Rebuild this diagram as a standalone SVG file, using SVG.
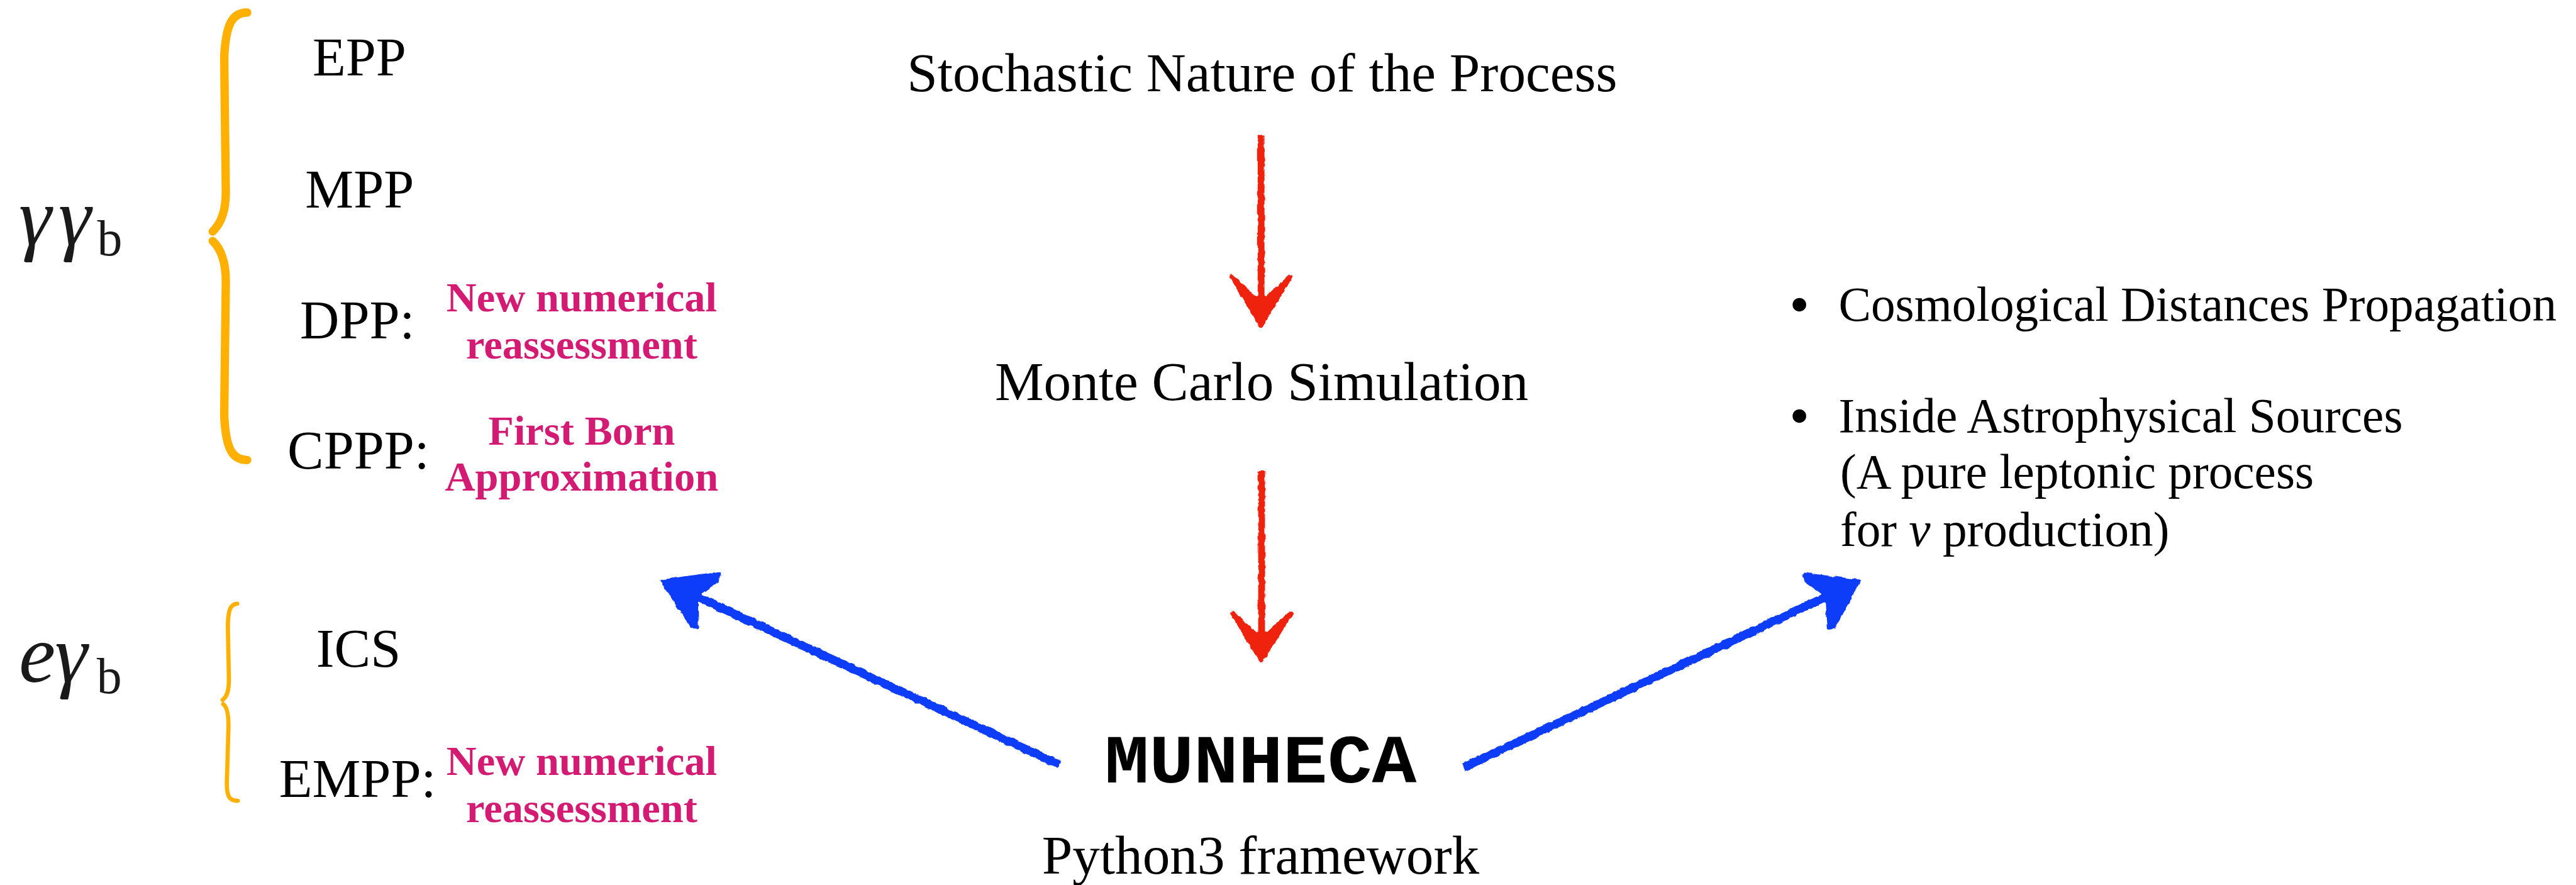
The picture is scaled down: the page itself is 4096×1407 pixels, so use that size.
<svg xmlns="http://www.w3.org/2000/svg" width="4096" height="1407" viewBox="0 0 4096 1407">
<style>
.t{font-family:"Liberation Serif","Times New Roman",serif;fill:#000}
.main{font-size:105px;text-anchor:middle}
.lbl{font-size:104px}
.note{font-family:"Liberation Serif","Times New Roman",serif;font-weight:bold;font-size:80px;fill:#D31B73;text-anchor:middle}
.rt{font-size:93px}
.math{font-family:"Liberation Serif","Times New Roman",serif;font-style:italic;font-size:158px;fill:#1a1a1a}
.sub{font-family:"Liberation Serif","Times New Roman",serif;font-size:96px;fill:#1a1a1a}
.brace{fill:none;stroke:#FFB000;stroke-linecap:round;stroke-linejoin:round}
.red{stroke:#EE2211;fill:#EE2211}
.blue{stroke:#0F3CF8;fill:#0F3CF8}
</style>
<defs>
<filter id="sketch" filterUnits="userSpaceOnUse" x="0" y="0" width="5000" height="1800">
<feTurbulence type="fractalNoise" baseFrequency="0.09" numOctaves="2" seed="3" result="n"/>
<feDisplacementMap in="SourceGraphic" in2="n" scale="6" xChannelSelector="R" yChannelSelector="G"/>
</filter>
</defs>
<rect width="4096" height="1407" fill="#fff"/>
<g transform="scale(0.831)">
<g id="connectors" filter="url(#sketch)">
<g id="arrow-stochastic-montecarlo" class="red">
<line x1="2413" y1="258" x2="2413" y2="580" stroke-width="13"/>
<polygon points="2413,623 2357,529 2402,572 2413,566 2424,572 2469,529" stroke-width="8" stroke-linejoin="round"/>
</g>
<g id="arrow-montecarlo-munheca" class="red">
<line x1="2414" y1="901" x2="2414" y2="1220" stroke-width="13"/>
<polygon points="2414,1264 2358,1173 2403,1214 2414,1208 2425,1214 2470,1173" stroke-width="8" stroke-linejoin="round"/>
</g>
<g id="arrow-munheca-left" class="blue">
<line x1="2027" y1="1463" x2="1318" y2="1134" stroke-width="16"/>
<polygon points="1268,1112 1376,1097 1372,1110 1332,1139 1333,1199 1324,1199" stroke-width="7" stroke-linejoin="round"/>
</g>
<g id="arrow-munheca-right" class="blue">
<line x1="2801" y1="1468" x2="3506" y2="1136" stroke-width="16"/>
<polygon points="3556,1112 3452,1099 3456,1111 3495,1139 3499,1201 3508,1200" stroke-width="7" stroke-linejoin="round"/>
</g>
</g>
<g id="node-stochastic"><text class="t main" x="2415" y="175">Stochastic Nature of the Process</text></g>
<g id="node-montecarlo"><text class="t main" x="2414" y="765">Monte Carlo Simulation</text></g>
<g id="node-munheca"><text x="2412" y="1497" font-family="'Liberation Mono','Courier New',monospace" font-weight="bold" font-size="132" text-anchor="middle" textLength="597" lengthAdjust="spacingAndGlyphs">MUNHECA</text></g>
<g id="node-python"><text class="t main" x="2412" y="1672">Python3 framework</text></g>
<g id="group-gg">
<text class="math" x="36" y="468">γ</text>
<text class="math" x="112" y="468">γ</text>
<text class="sub" x="186" y="489">b</text>
<path class="brace" stroke-width="16" d="M473 24 C445 24 432 45 429 110 L432 360 C433 400 425 425 407 443"/>
<path class="brace" stroke-width="16" d="M407 461 C425 478 433 505 432 545 L429 795 C432 860 445 880 473 880"/>
</g>
<g id="node-epp"><text class="t lbl" x="598" y="145">EPP</text></g>
<g id="node-mpp"><text class="t lbl" x="584" y="397">MPP</text></g>
<g id="node-dpp"><text class="t lbl" x="574" y="647">DPP:</text>
<text class="note" x="1113" y="596">New numerical</text>
<text class="note" x="1113" y="686">reassessment</text></g>
<g id="node-cppp"><text class="t lbl" x="550" y="897">CPPP:</text>
<text class="note" x="1113" y="851">First Born</text>
<text class="note" x="1113" y="939">Approximation</text></g>
<g id="group-eg">
<text class="math" x="36" y="1304">e</text>
<text class="math" x="105" y="1304">γ</text>
<text class="sub" x="185" y="1326">b</text>
<path class="brace" stroke-width="8" d="M454 1155 C440 1155 436 1170 436 1200 L438 1300 C438 1325 433 1334 426 1339"/>
<path class="brace" stroke-width="8" d="M427 1347 C434 1352 438 1365 437 1395 L434 1500 C434 1525 440 1532 455 1532"/>
</g>
<g id="node-ics"><text class="t lbl" x="605" y="1275">ICS</text></g>
<g id="node-empp"><text class="t lbl" x="534" y="1525">EMPP:</text>
<text class="note" x="1113" y="1483">New numerical</text>
<text class="note" x="1113" y="1573">reassessment</text></g>
<g id="node-applications">
<circle cx="3443" cy="583" r="13" fill="#000"/>
<text class="t rt" x="3518" y="614">Cosmological Distances Propagation</text>
<circle cx="3443" cy="796" r="13" fill="#000"/>
<text class="t rt" x="3518" y="827">Inside Astrophysical Sources</text>
<text class="t rt" x="3521" y="934">(A pure leptonic process</text>
<text class="t rt" x="3521" y="1045">for <tspan font-style="italic">ν</tspan> production)</text>
</g>
</g>
</svg>
